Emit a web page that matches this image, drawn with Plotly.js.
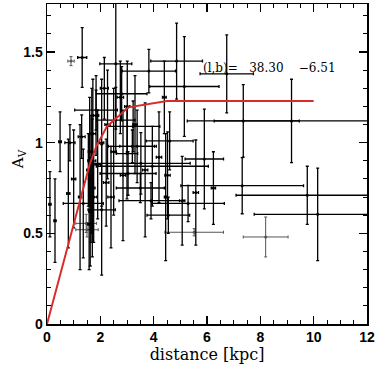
<!DOCTYPE html>
<html>
<head>
<meta charset="utf-8">
<script src="https://cdn.plot.ly/plotly-3.0.1.min.js"></script>
<style>html,body{margin:0;padding:0;background:#fff;}#chart{width:380px;height:368px;}</style>
</head>
<body>
<div id="chart"></div>
<script>
// Black (main) data points: distance [kpc], A_V, and their errors
const dist = [1.32, 2.58, 4.86, 3.82, 5.15, 6.74, 7.36, 9.17, 7.32, 9.76, 10.15, 4.45,
  0.49, 0.86, 1.30, 2.80, 1.84, 2.58, 3.23, 4.60, 3.38, 3.00, 3.52, 3.95, 3.04,
  2.15, 2.27, 2.75, 3.01, 1.84, 3.30, 4.40,
  1.60, 1.65, 1.70, 1.55, 1.75, 1.62, 1.68, 1.58, 1.72,
  0.11, 0.30, 0.80, 1.00, 1.24, 1.36, 2.05, 2.22, 2.85, 3.68, 4.52, 5.07, 5.58,
  4.55, 3.90, 5.29, 6.24, 5.90, 3.20, 3.50, 2.50, 2.05, 1.90, 2.40, 4.20];
const av = [1.47, 1.435, 1.45, 1.395, 1.31, 1.38, 1.12, 1.12, 0.763, 0.71, 0.605, 0.70,
  1.005, 1.00, 1.033, 1.27, 1.18, 1.125, 1.09, 1.01, 0.98, 0.94, 0.886, 0.87, 0.83,
  1.30, 1.10, 1.25, 1.20, 1.15, 1.10, 1.25,
  0.95, 0.80, 0.75, 0.85, 0.70, 0.62, 0.90, 0.55, 1.05,
  0.66, 0.57, 0.72, 0.80, 0.70, 0.665, 0.63, 0.78, 0.82, 0.85, 0.82, 0.68, 0.725,
  0.60, 0.68, 0.665, 0.75, 0.91, 0.98, 0.75, 0.95, 1.00, 0.88, 0.70, 0.92];
const distErr = [0.17, 0.60, 0.97, 1.00, 1.30, 1.00, 2.10, 2.90, 2.30, 2.67, 2.38, 0.05,
  0.05, 0.19, 0.13, 0.95, 0.80, 0.72, 1.00, 0.88, 0.65, 0.40, 1.85, 2.10, 1.05,
  0.15, 0.10, 0.12, 0.10, 0.10, 0.08, 0.07,
  0.05, 0.08, 0.10, 0.06, 0.12, 0.05, 0.15, 0.05, 0.10,
  0.04, 0.04, 0.06, 0.08, 0.06, 0.75, 0.51, 0.10, 0.10, 0.10, 0.10, 0.10, 0.10,
  0.80, 1.20, 1.36, 0.08, 0.72, 0.90, 0.90, 0.10, 0.08, 0.10, 0.12, 0.10];
const avErr = [0.165, 0.36, 0.21, 0.12, 0.275, 0.215, 0.20, 0.23, 0.155, 0.16, 0.255, 0.35,
  0.165, 0.10, 0.12, 0.15, 0.11, 0.18, 0.14, 0.16, 0.20, 0.25, 0.17, 0.22, 0.12,
  0.17, 0.30, 0.20, 0.25, 0.22, 0.27, 0.20,
  0.30, 0.35, 0.38, 0.20, 0.25, 0.30, 0.40, 0.25, 0.30,
  0.18, 0.23, 0.30, 0.27, 0.40, 0.30, 0.36, 0.24, 0.36, 0.37, 0.24, 0.245, 0.29,
  0.10, 0.10, 0.10, 0.20, 0.275, 0.09, 0.08, 0.35, 0.35, 0.30, 0.28, 0.25];

// Faint (thin grey) data points
const gDist = [0.90, 8.20, 5.52, 1.47, 1.50];
const gAv = [1.45, 0.48, 0.506, 0.555, 0.52];
const gDistErr = [0.12, 0.84, 1.10, 0.39, 0.42];
const gAvErr = [0.025, 0.11, 0.02, 0.05, 0.04];

// Extinction model curve (red)
const modelDist = [0, 1.6, 1.85, 2.25, 3.05, 4.5, 10];
const modelAv = [0, 0.88, 0.98, 1.09, 1.195, 1.23, 1.23];

const xTicks = [0, 2, 4, 6, 8, 10, 12];
const yTicks = [0, 0.5, 1, 1.5];
const yTickText = ['0', '0.5', '1', '1.5'];
const labelText = '(l,b)=   38.30    \u22126.51';

const traces = [
  {
    x: gDist, y: gAv, mode: 'markers', type: 'scatter',
    marker: {color: '#555', size: 3},
    error_x: {type: 'data', array: gDistErr, visible: true, color: '#555', thickness: 1, width: 1.5},
    error_y: {type: 'data', array: gAvErr, visible: true, color: '#555', thickness: 1, width: 1.5},
    hoverinfo: 'skip'
  },
  {
    x: dist, y: av, mode: 'markers', type: 'scatter',
    marker: {color: '#000', size: 3},
    error_x: {type: 'data', array: distErr, visible: true, color: '#000', thickness: 1.3, width: 1.5},
    error_y: {type: 'data', array: avErr, visible: true, color: '#000', thickness: 1.3, width: 1.5},
    hoverinfo: 'skip'
  },
  {
    x: modelDist, y: modelAv, mode: 'lines', type: 'scatter',
    line: {color: '#d92b2b', width: 2},
    hoverinfo: 'skip'
  }
];

const tickFont = {family: 'Liberation Sans, Arial, sans-serif', size: 14, color: '#000', weight: 'bold'};

const layout = {
  width: 380, height: 368,
  margin: {l: 47, r: 13, t: 4, b: 44},
  paper_bgcolor: '#fff', plot_bgcolor: '#fff',
  showlegend: false,
  xaxis: {
    range: [0, 12], tickvals: xTicks, ticktext: xTicks.map(String),
    ticks: 'inside', ticklen: 8, tickwidth: 1.3, tickcolor: '#000',
    mirror: 'allticks', showline: true, linecolor: '#000', linewidth: 1.5,
    showgrid: false, zeroline: false,
    minor: {dtick: 0.5, tick0: 0, ticks: 'inside', ticklen: 4, tickwidth: 1, tickcolor: '#000', showgrid: false},
    tickfont: tickFont,
    title: {text: 'distance [kpc]', font: {family: 'DejaVu Serif, serif', size: 16, color: '#000'}, standoff: 4}
  },
  yaxis: {
    range: [0, 1.765], tickvals: yTicks, ticktext: yTickText,
    ticks: 'inside', ticklen: 8, tickwidth: 1.3, tickcolor: '#000',
    mirror: 'allticks', showline: true, linecolor: '#000', linewidth: 1.5,
    showgrid: false, zeroline: false,
    minor: {dtick: 0.1, tick0: 0, ticks: 'inside', ticklen: 4, tickwidth: 1, tickcolor: '#000', showgrid: false},
    tickfont: tickFont
  },
  annotations: [
    {
      text: labelText, xref: 'x', yref: 'y', x: 5.77, y: 1.41, xanchor: 'left', yanchor: 'middle',
      showarrow: false, font: {family: 'DejaVu Serif, serif', size: 12, color: '#000'}
    },
    {
      text: 'A<sub>V</sub>', xref: 'paper', yref: 'y', x: -0.09, y: 0.91, xanchor: 'center', yanchor: 'middle',
      textangle: -90, showarrow: false, font: {family: 'DejaVu Serif, serif', size: 15, color: '#000'}
    }
  ]
};

Plotly.newPlot('chart', traces, layout, {displayModeBar: false, staticPlot: true});
</script>
</body>
</html>
